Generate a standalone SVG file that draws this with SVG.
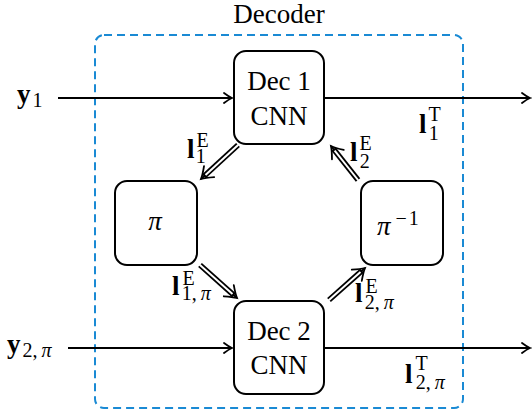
<svg xmlns="http://www.w3.org/2000/svg" width="532" height="416" viewBox="0 0 532 416" font-family="Liberation Serif">
<defs>
<style>
text, tspan{font-family:"Liberation Serif",serif}
.box{fill:#fff;stroke:#000;stroke-width:2}
.big{font-size:27px}
.sm{font-size:20px;font-weight:normal}
.it{font-style:italic}
.b{font-weight:bold}
.ln{stroke:#000;stroke-width:1.8;fill:none}
.dbk{stroke:#000;stroke-width:5.6;fill:none}
.dwh{stroke:#fff;stroke-width:2;fill:none}
</style>
<marker id="ah" markerUnits="userSpaceOnUse" markerWidth="14" markerHeight="14" refX="0" refY="0" viewBox="-12 -7 14 14" orient="auto">
<path d="M-8,-5 Q-3,-1.2 0,0 Q-3,1.2 -8,5" fill="none" stroke="#000" stroke-width="1.8" stroke-linecap="round"/>
</marker>
<marker id="ahd" markerUnits="userSpaceOnUse" markerWidth="20" markerHeight="20" refX="0" refY="0" viewBox="-16 -10 20 20" orient="auto">
<path d="M-11,-7.5 Q-4,-2 0,0 Q-4,2 -11,7.5" fill="none" stroke="#000" stroke-width="1.8" stroke-linecap="round"/>
</marker>
</defs>
<rect width="532" height="416" fill="#fff"/>
<g id="decoder">
<rect x="95" y="35" width="368" height="373" rx="9" fill="none" stroke="#1a8ad4" stroke-width="2" stroke-dasharray="8 5"/>
<text class="big" x="279" y="23" text-anchor="middle">Decoder</text>
</g>
<g id="connectors">
<line class="ln" x1="58" y1="98" x2="232" y2="98" marker-end="url(#ah)"/>
<line class="ln" x1="324" y1="98" x2="530" y2="98" marker-end="url(#ah)"/>
<line class="ln" x1="68" y1="348" x2="232" y2="348" marker-end="url(#ah)"/>
<line class="ln" x1="324" y1="348" x2="530" y2="348" marker-end="url(#ah)"/>
<line class="ln" x1="238" y1="145" x2="201" y2="179" marker-end="url(#ahd)"/>
<line class="dbk" x1="238" y1="145" x2="204" y2="176.3"/>
<line class="dwh" x1="240" y1="143.2" x2="205.5" y2="174.9"/>
<line class="ln" x1="358" y1="180" x2="331" y2="146" marker-end="url(#ahd)"/>
<line class="dbk" x1="358" y1="180" x2="333.5" y2="149.1"/>
<line class="dwh" x1="359.6" y1="182" x2="334.7" y2="150.7"/>
<line class="ln" x1="200" y1="265" x2="237" y2="298" marker-end="url(#ahd)"/>
<line class="dbk" x1="200" y1="265" x2="234" y2="295.3"/>
<line class="dwh" x1="198" y1="263.2" x2="232.5" y2="294"/>
<line class="ln" x1="329" y1="300" x2="365" y2="268" marker-end="url(#ahd)"/>
<line class="dbk" x1="329" y1="300" x2="362" y2="270.7"/>
<line class="dwh" x1="327" y1="301.8" x2="360.5" y2="272"/>
</g>
<g id="dec1">
<rect class="box" x="234" y="51" width="90" height="93" rx="12"/>
<text class="big" x="279" y="90" text-anchor="middle">Dec 1</text>
<text class="big" x="279" y="125" text-anchor="middle">CNN</text>
</g>
<g id="dec2">
<rect class="box" x="234" y="301" width="90" height="93" rx="12"/>
<text class="big" x="279" y="340" text-anchor="middle">Dec 2</text>
<text class="big" x="279" y="374" text-anchor="middle">CNN</text>
</g>
<g id="pi">
<rect class="box" x="115" y="181" width="82" height="84" rx="12"/>
<text class="big it" x="155" y="230" text-anchor="middle">π</text>
</g>
<g id="piinv">
<rect class="box" x="361" y="181" width="82" height="84" rx="12"/>
<text class="big" x="377" y="235"><tspan class="it">π</tspan><tspan class="sm" dx="5" dy="-10" letter-spacing="2">−1</tspan></text>
</g>
<g id="labels">
<text class="big b" x="17" y="103">y<tspan class="sm" dx="2" dy="4">1</tspan></text>
<text class="big b" x="7" y="353">y<tspan class="sm" dx="2" dy="4">2,</tspan><tspan class="sm it" dx="4">π</tspan></text>
<text class="big b" x="187" y="158">l<tspan class="sm" dx="2" dy="-11">E</tspan><tspan class="sm" dx="-13" dy="16">1</tspan></text>
<text class="big b" x="350" y="161">l<tspan class="sm" dx="2" dy="-11">E</tspan><tspan class="sm" dx="-12" dy="18">2</tspan></text>
<text class="big b" x="172" y="295">l<tspan class="sm" dx="3" dy="-10">E</tspan><tspan class="sm" dx="-13" dy="15">1,</tspan><tspan class="sm it" dx="4">π</tspan></text>
<text class="big b" x="355" y="302">l<tspan class="sm" dx="3" dy="-9">E</tspan><tspan class="sm" dx="-13" dy="16">2,</tspan><tspan class="sm it" dx="4">π</tspan></text>
<text class="big b" x="419" y="133">l<tspan class="sm" dx="2" dy="-12">T</tspan><tspan class="sm" dx="-12" dy="19">1</tspan></text>
<text class="big b" x="405" y="383">l<tspan class="sm" dx="3" dy="-13">T</tspan><tspan class="sm" dx="-12" dy="19">2,</tspan><tspan class="sm it" dx="4">π</tspan></text>
</g>
</svg>
